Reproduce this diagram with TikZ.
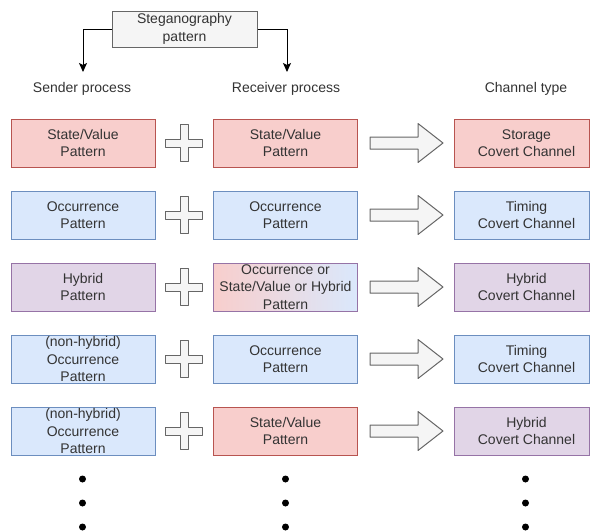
\documentclass[tikz,border=0pt]{standalone}
\usepackage{fontspec}
\setmainfont{Liberation Sans}
\usetikzlibrary{calc,arrows.meta}

\definecolor{svfill}{HTML}{F8CECC}
\definecolor{svline}{HTML}{B85450}
\definecolor{ocfill}{HTML}{DAE8FC}
\definecolor{ocline}{HTML}{6C8EBF}
\definecolor{hyfill}{HTML}{E1D5E7}
\definecolor{hyline}{HTML}{9673A6}
\definecolor{grayfill}{HTML}{F5F5F5}
\definecolor{grayline}{HTML}{666666}
\definecolor{txt}{HTML}{333333}

\tikzset{
  basefont/.style={font=\fontsize{14}{17.5}\selectfont, text=txt},
  box/.style={basefont, draw, line width=1pt, minimum width=144, minimum height=48,
    inner sep=0pt, align=center},
  chbox/.style={box, minimum width=135},
  svbox/.style={fill=svfill, draw=svline},
  ocbox/.style={fill=ocfill, draw=ocline},
  hybox/.style={fill=hyfill, draw=hyline},
  mixbox/.style={left color=svfill, right color=ocfill, draw=hyline},
  headtxt/.style={basefont, inner sep=0pt},
  shapeline/.style={fill=grayfill, draw=grayline, line width=1pt, line join=round},
  conn/.style={draw=black, line width=1pt, -{Stealth[length=9pt,width=8pt,inset=2pt]}},
  crosssign/.pic={
    \path[shapeline] (-4,-18.5) -- (4,-18.5) -- (4,-4) -- (18.5,-4)
      -- (18.5,4) -- (4,4) -- (4,18.5) -- (-4,18.5) -- (-4,4)
      -- (-18.5,4) -- (-18.5,-4) -- (-4,-4) -- cycle;},
  blockarrow/.pic={
    \path[shapeline] (0,-6) -- (48,-6) -- (48,-19.5) -- (73,0) -- (48,19.5)
      -- (48,6) -- (0,6) -- cycle;}
}

\begin{document}
\begin{tikzpicture}[x=1pt,y=-1pt]
\useasboundingbox (0,0) rectangle (590,531);

% pattern box and its two branches
\node[box, fill=grayfill, draw=grayline, minimum width=145, minimum height=36]
  (top) at (184.5,29) {Steganography\\pattern};
\coordinate (sendtip) at (83,72);
\coordinate (recvtip) at (287,72);
\draw[conn] (top.west) -| (sendtip);
\draw[conn] (top.east) -| (recvtip);

% column headings
\node[headtxt] (hsend) at (82,89) {Sender process};
\node[headtxt] (hrecv) at (286,89) {Receiver process};
\node[headtxt] (hchan) at (526,89) {Channel type};

% rows: sender pattern + receiver pattern => channel
\node[box, svbox] (s1) at (83,143) {State/Value\\Pattern};
\node[box, svbox] (r1) at (285.5,143) {State/Value\\Pattern};
\node[chbox, svbox] (c1) at (521.5,143) {};
\node[basefont, align=center] (c1t) at (526.5,143) {Storage\\Covert Channel};

\node[box, ocbox] (s2) at (83,215) {Occurrence\\Pattern};
\node[box, ocbox] (r2) at (285.5,215) {Occurrence\\Pattern};
\node[chbox, ocbox] (c2) at (521.5,215) {};
\node[basefont, align=center] (c2t) at (526.5,215) {Timing\\Covert Channel};

\node[box, hybox] (s3) at (83,287) {Hybrid\\Pattern};
\node[box, mixbox] (r3) at (285.5,287) {Occurrence or\\State/Value or Hybrid\\Pattern};
\node[chbox, hybox] (c3) at (521.5,287) {};
\node[basefont, align=center] (c3t) at (526.5,287) {Hybrid\\Covert Channel};

\node[box, ocbox] (s4) at (83,359) {(non-hybrid)\\Occurrence\\Pattern};
\node[box, ocbox] (r4) at (285.5,359) {Occurrence\\Pattern};
\node[chbox, ocbox] (c4) at (521.5,359) {};
\node[basefont, align=center] (c4t) at (526.5,359) {Timing\\Covert Channel};

\node[box, ocbox] (s5) at (83,431) {(non-hybrid)\\Occurrence\\Pattern};
\node[box, svbox] (r5) at (285.5,431) {State/Value\\Pattern};
\node[chbox, hybox] (c5) at (521.5,431) {};
\node[basefont, align=center] (c5t) at (526.5,431) {Hybrid\\Covert Channel};

% plus signs and block arrows between the columns
\foreach \i in {1,...,5}{
  \pic at ($(s\i.east)!0.5!(r\i.west)$) {crosssign};
  \pic at ($(r\i.east)+(12,0)$) {blockarrow};
}

% continuation dots
\foreach \x in {82.5,285.5,525.5}{
  \foreach \y in {479,503,527}{
    \fill[black] (\x,\y) circle (3.5pt);
  }
}
\end{tikzpicture}
\end{document}
